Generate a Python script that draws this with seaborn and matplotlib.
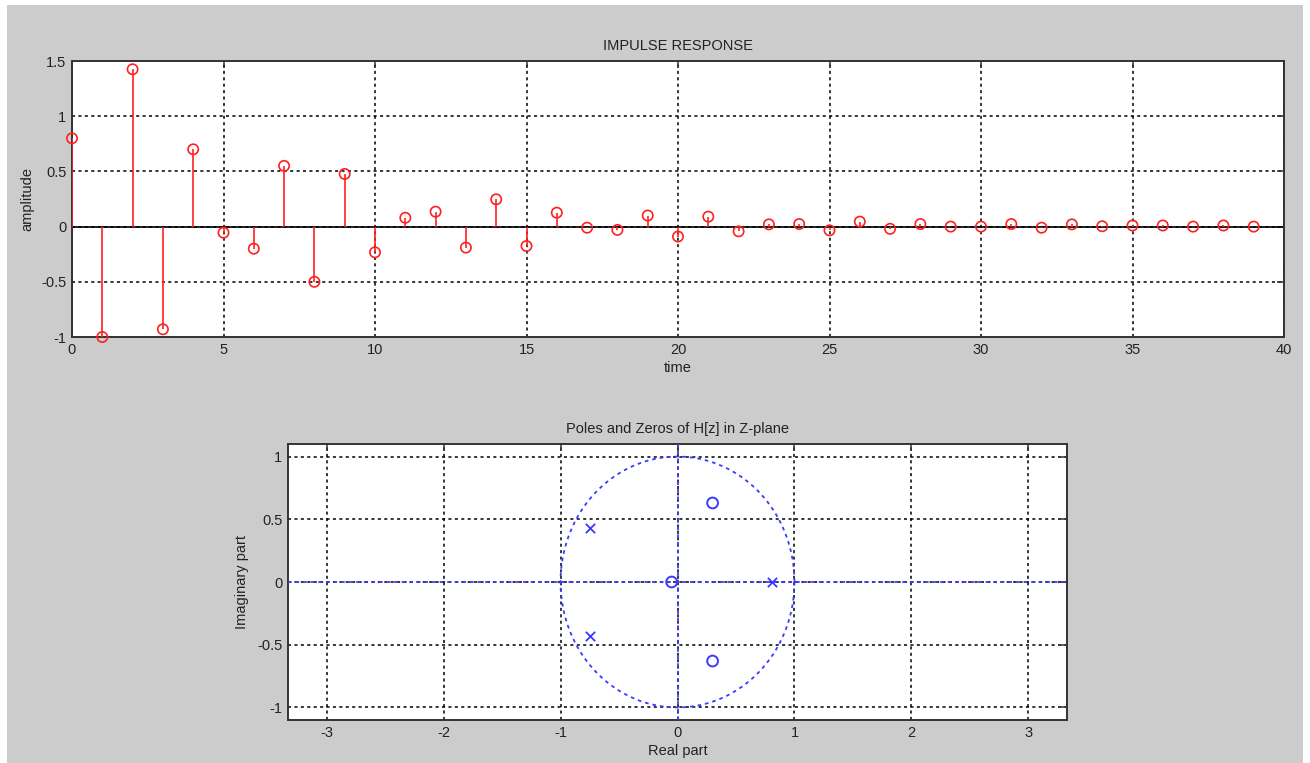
import numpy as np
import pandas as pd
import matplotlib
matplotlib.use("Agg")
import matplotlib.pyplot as plt
import seaborn as sns
from matplotlib.patches import Rectangle

# ---------------- data ----------------
n_samples = list(range(40))
amplitude = [0.80, -1.00, 1.425, -0.93, 0.70, -0.055, -0.20, 0.55, -0.50, 0.477,
             -0.233, 0.08, 0.135, -0.19, 0.247, -0.176, 0.126, -0.01, -0.03, 0.10,
             -0.09, 0.09, -0.043, 0.02, 0.023, -0.034, 0.045, -0.02, 0.023, 0.0,
             0.0, 0.023, -0.01, 0.02, 0.003, 0.01, 0.01, 0.0, 0.01, 0.0]

pole_re = [-0.745, -0.745, 0.805]
pole_im = [0.43, -0.43, 0.0]
zero_re = [0.30, 0.30, -0.05]
zero_im = [0.63, -0.63, 0.0]

top_xticks = [0, 5, 10, 15, 20, 25, 30, 35, 40]
top_yticks = [-1, -0.5, 0, 0.5, 1, 1.5]
top_ylabels = ["-1", "-0.5", "0", "0.5", "1", "1.5"]
bot_xticks = [-3, -2, -1, 0, 1, 2, 3]
bot_yticks = [-1, -0.5, 0, 0.5, 1]
bot_ylabels = ["-1", "-0.5", "0", "0.5", "1"]

# ---------------- style ----------------
sns.set_style("white")
plt.rcParams["font.family"] = ["Liberation Sans", "DejaVu Sans"]
plt.rcParams["axes.unicode_minus"] = False

W, H = 1310, 763
fig = plt.figure(figsize=(W / 100, H / 100), dpi=100, facecolor="white")
fig.patches.append(Rectangle((7 / W, 0), (1303 - 7) / W, (H - 5) / H,
                             transform=fig.transFigure, facecolor="#cccccc",
                             edgecolor="none", zorder=-10))

FS = 10.5
GRID = dict(color="black", linestyle=(0, (2, 2.2)), linewidth=1.1)


def style_axes(ax):
    ax.set_facecolor("white")
    for s in ax.spines.values():
        s.set_visible(True)
        s.set_color("#333333")
        s.set_linewidth(1.4)
    ax.tick_params(direction="in", length=5, width=1.1, top=True, right=True,
                   labelsize=FS, colors="#333333", labelcolor="#222222", pad=4)
    ax.grid(True, **GRID)
    ax.set_axisbelow(True)


# ---------------- top: impulse response ----------------
ax1 = fig.add_axes([72 / W, (H - 337) / H, (1284 - 72) / W, 276 / H])
df = pd.DataFrame({"time": n_samples, "amplitude": amplitude})
ax1.axhline(0, color="black", linewidth=1.2, zorder=2)
ax1.vlines(df["time"], 0, df["amplitude"], color="#ff2020", linewidth=1.2, zorder=3)
sns.scatterplot(data=df, x="time", y="amplitude", marker="o", s=55, ax=ax1,
                linewidth=1.2, zorder=4, clip_on=False)
pts = ax1.collections[-1]
pts.set_facecolor("none")
pts.set_edgecolor("#ff2020")
ax1.set_xlim(0, 40)
ax1.set_ylim(-1, 1.5)
ax1.set_xticks(top_xticks)
ax1.set_yticks(top_yticks)
ax1.set_yticklabels(top_ylabels)
style_axes(ax1)
ax1.set_title("IMPULSE RESPONSE", fontsize=FS, pad=8, color="#222222")
ax1.set_xlabel("time", fontsize=FS, labelpad=3, color="#222222")
ax1.set_ylabel("amplitude", fontsize=FS, labelpad=5, color="#222222")

# ---------------- bottom: poles & zeros ----------------
ax2 = fig.add_axes([288 / W, (H - 720) / H, (1067 - 288) / W, 276 / H])
blue = "#3a3aff"
dot = (0, (2, 2.2))
theta = np.linspace(0, 2 * np.pi, 400)
ax2.plot(np.cos(theta), np.sin(theta), color=blue, linestyle=dot,
         linewidth=1.3, zorder=3)
ax2.axhline(0, color=blue, linestyle=dot, linewidth=1.3, zorder=3)
ax2.axvline(0, color=blue, linestyle=dot, linewidth=1.3, zorder=3)
sns.scatterplot(x=pole_re, y=pole_im, marker="x", s=45, color=blue,
                linewidth=1.3, ax=ax2, zorder=5)
sns.scatterplot(x=zero_re, y=zero_im, marker="o", s=60, ax=ax2,
                linewidth=1.4, zorder=5)
zc = ax2.collections[-1]
zc.set_facecolor("none")
zc.set_edgecolor(blue)
ax2.set_xlim(-3.33, 3.33)
ax2.set_ylim(-1.1, 1.1)
ax2.set_xticks(bot_xticks)
ax2.set_yticks(bot_yticks)
ax2.set_yticklabels(bot_ylabels)
style_axes(ax2)
ax2.set_title("Poles and Zeros of H[z] in Z-plane", fontsize=FS, pad=8, color="#222222")
ax2.set_xlabel("Real part", fontsize=FS, labelpad=3, color="#222222")
ax2.set_ylabel("Imaginary part", fontsize=FS, labelpad=6, color="#222222")

fig.savefig("out.png", dpi=100, facecolor=fig.get_facecolor())
